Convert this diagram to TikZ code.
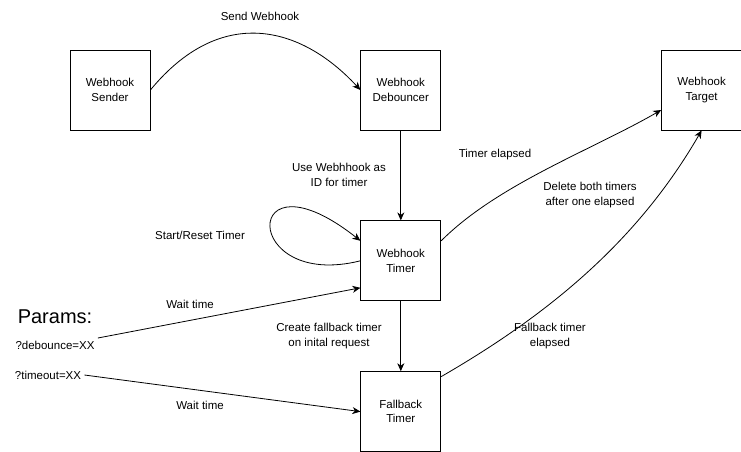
\documentclass[tikz,border=0pt]{standalone}
\usepackage{fontspec}
\setmainfont{Liberation Sans}
\usetikzlibrary{arrows.meta,positioning}

\begin{document}
\begin{tikzpicture}[
		x=1pt, y=-1pt, line width=0.8pt,
		font=\fontsize{11.5}{14.5}\selectfont,
		box/.style={draw, minimum size=80pt, inner sep=0pt, align=center},
		arr/.style={-{Stealth[length=8pt,width=7pt,inset=2.5pt]}},
		note/.style={align=center, inner sep=0pt},
		]
		\useasboundingbox (0,0) rectangle (741,451);
		
		\node[box] (sender) at (110,90) {Webhook\\Sender};
		\node[box, right=210pt of sender] (deb) {Webhook\\Debouncer};
		\node[box, right=220pt of deb] (target) {Webhook\\Target};
		\node[box, below=90pt of deb] (timer) {Webhook\\Timer};
		\node[box, below=70pt of timer] (fallback) {Fallback\\Timer};
		
		\node[note, font=\fontsize{20}{24}\selectfont] (params) at (55,317) {Params:};
		\node[note] (debounce) at (55,345) {?debounce=XX};
		\node[note] (timeout) at (48,375) {?timeout=XX};
		
		% webhook comes in
		\draw[arr] (sender.east) .. controls +(70,-85) and +(-60,-65) .. (deb.west);
		\node[note] (sendlbl) at (260,16) {Send Webhook};
		\draw[arr] (deb) -- (timer);
		\node[note] (idlbl) at (339,175) {Use Webhhook as\\ID for timer};
		
		% timers
		\draw[arr] (timer.west) .. controls +(-120,30) and +(-120,-95) .. ([yshift=20pt]timer.west);
		\node[note] (resetlbl) at (200,235) {Start/Reset Timer};
		\draw[arr] (timer) -- (fallback);
		\node[note] (createlbl) at (329,336) {Create fallback timer\\on inital request};
		
		% params
		\draw[arr] ([xshift=3pt,yshift=7pt]debounce.east) -- ([yshift=-27pt]timer.west);
		\node[note] (wait1) at (190,304) {Wait time};
		\draw[arr] ([xshift=3pt]timeout.east) -- (fallback.west);
		\node[note] (wait2) at (200,405) {Wait time};
		
		% to target
		\draw[arr] ([yshift=20pt]timer.east) to[out=45, in=210, looseness=0.8] ([yshift=-20pt]target.west);
		\node[note] (elapsedlbl) at (495,155) {Timer elapsed};
		\draw[arr] ([yshift=35pt]fallback.east) to[out=30, in=-120, looseness=0.9] (target.south);
		\node[note] (deletelbl) at (590,195) {Delete both timers\\after one elapsed};
		\node[note] (fallbacklbl) at (550,336) {Fallback timer\\elapsed};
		
	\end{tikzpicture}
\end{document}
